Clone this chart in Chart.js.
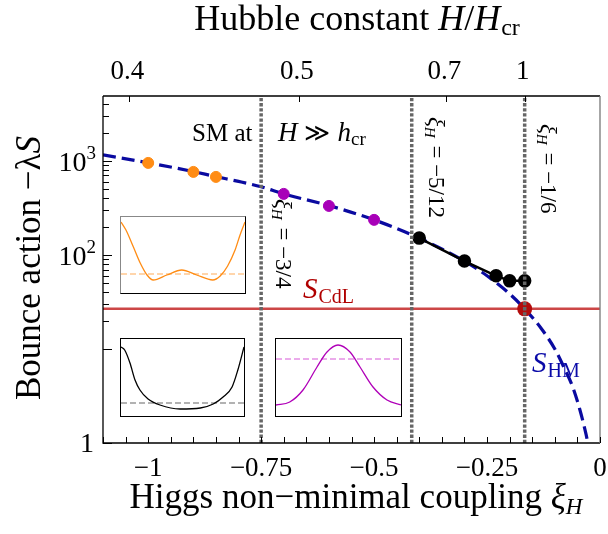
<!DOCTYPE html>
<html><head><meta charset="utf-8">
<script src="https://cdn.jsdelivr.net/npm/chart.js@4.4.0/dist/chart.umd.min.js"></script>
<style>
html,body{margin:0;padding:0;background:#fff;}
#wrap{position:relative;width:608px;height:534px;overflow:hidden;}
#main{position:absolute;left:0;top:0;}
.inset{position:absolute;background:#fff;border:1px solid #000;}
.inset canvas{display:block;}
</style></head><body>
<div id="wrap">
<canvas id="main" width="608" height="534"></canvas>
<div class="inset" style="left:120px;top:216px;width:124px;height:76px;border-top-color:#888;border-left-color:#888"><canvas id="insA" width="124" height="76"></canvas></div>
<div class="inset" style="left:120px;top:338px;width:123px;height:77px"><canvas id="insB" width="123" height="77"></canvas></div>
<div class="inset" style="left:275px;top:338px;width:125px;height:77px"><canvas id="insC" width="125" height="77"></canvas></div>
</div>
<script>
// ---------------- data ----------------
const hmXi = [-1.1, -1.0, -0.9, -0.85, -0.8, -0.75, -0.7, -0.6, -0.5, -0.4, -0.3, -0.25, -0.2, -0.1667, -0.13, -0.1, -0.08, -0.06, -0.045, -0.035, -0.027, -0.02];
const hmS  = [1160, 955, 770, 680, 605, 530, 446, 335, 236, 151, 86, 60, 38.5, 26.7, 16.5, 10, 6.4, 3.9, 2.3, 1.5, 1.0, 0.6];
const orangeXi = [-1.0, -0.9, -0.85];
const orangeS  = [952, 764, 676];
const purpleXi = [-0.7, -0.6, -0.5];
const purpleS  = [446, 332, 236];
const blackXi = [-0.4, -0.3, -0.23, -0.2, -0.1667];
const blackS  = [151, 86, 60, 53, 53];
const cdlS = 26.7;
const cdlXi = -0.1667;
const vLineXi = [-0.75, -0.4167, -0.1667];
const vLineLabels = ['\u22123/4', '\u22125/12', '\u22121/6'];
const xTickLabels = [-1, -0.75, -0.5, -0.25, 0];
const yTickValues = [1, 100, 1000];
const yTickExp = ['', '2', '3'];
const topTickH = [0.4, 0.5, 0.7, 1];
const topTickText = ['0.4', '0.5', '0.7', '1'];

// inset curves (normalised x, height in px units)
const insAX = [0, 0.04, 0.1, 0.155, 0.21, 0.26, 0.37, 0.49, 0.61, 0.74, 0.8, 0.86, 0.92, 0.96, 1.0];
const insAY = [71, 63, 46, 30, 18, 13, 18, 23, 18, 13, 17, 27, 43, 58, 71];
const insALevel = 19;
const insBX = [0, 0.03, 0.073, 0.114, 0.154, 0.22, 0.317, 0.48, 0.645, 0.75, 0.83, 0.903, 0.95, 1.0];
const insBY = [69, 66, 53, 36, 26, 17, 11, 7, 8, 12, 19, 29, 46, 69];
const insBLevel = 13;
const insCX = [0, 0.11, 0.216, 0.328, 0.408, 0.496, 0.592, 0.672, 0.776, 0.888, 1];
const insCY = [11, 14, 26, 49, 64, 71, 64, 49, 29, 16, 11];
const insCLevel = 57;

// ---------------- helpers ----------------
const SERIF = '"Liberation Serif", "DejaVu Serif", serif';
function f(size, italic){ return (italic ? 'italic ' : '') + size + 'px ' + SERIF; }
function rich(ctx, parts, x, y, align, rot, color){
  ctx.save();
  ctx.translate(x, y);
  if (rot) ctx.rotate(rot);
  ctx.textBaseline = 'alphabetic';
  ctx.textAlign = 'left';
  const ws = parts.map(p => { ctx.font = p.font; return ctx.measureText(p.t).width + (p.gap || 0); });
  const total = ws.reduce((a, b) => a + b, 0);
  let cx = align === 'center' ? -total / 2 : (align === 'right' ? -total : 0);
  parts.forEach((p, i) => {
    ctx.font = p.font;
    ctx.fillStyle = p.color || color || '#000';
    ctx.fillText(p.t, cx, p.dy || 0);
    cx += ws[i];
  });
  ctx.restore();
}
const pts = (xs, ys) => xs.map((x, i) => ({x: x, y: ys[i]}));

// ---------------- decorations plugin ----------------
const decor = {
  id: 'decor',
  afterDraw(chart){
    const ctx = chart.ctx;
    const xs = chart.scales.x, ys = chart.scales.y;
    const {left, right, top, bottom} = chart.chartArea;
    ctx.save();
    // frame
    ctx.lineWidth = 1.3;
    ctx.strokeStyle = '#000';
    ctx.beginPath();
    ctx.moveTo(left, top); ctx.lineTo(right, top);
    ctx.moveTo(left, top); ctx.lineTo(left, bottom); ctx.lineTo(right, bottom);
    ctx.stroke();
    ctx.strokeStyle = '#777';
    ctx.beginPath(); ctx.moveTo(right, top); ctx.lineTo(right, bottom); ctx.stroke();
    // bottom ticks
    ctx.strokeStyle = '#000';
    ctx.lineWidth = 1;
    ctx.beginPath();
    for (let k = -22; k <= 0; k++){
      const px = Math.round(xs.getPixelForValue(k * 0.05)) + 0.5;
      ctx.moveTo(px, bottom); ctx.lineTo(px, bottom - 6);
    }
    // left ticks
    const yt = [];
    [1, 10, 100, 1000].forEach(v => yt.push([v, 9]));
    [10, 100].forEach(d => { for (let m = 2; m <= 9; m++) yt.push([m * d, 6]); });
    [2000, 3000, 4000].forEach(v => yt.push([v, 6]));
    yt.forEach(([v, len]) => {
      const py = Math.round(ys.getPixelForValue(v)) + 0.5;
      ctx.moveTo(left, py); ctx.lineTo(left + len, py);
    });
    // top ticks
    topTickH.forEach(h => {
      const px = Math.round(xs.getPixelForValue(-1 / (6 * h * h))) + 0.5;
      ctx.moveTo(px, top); ctx.lineTo(px, top + 6);
    });
    ctx.stroke();

    // tick labels
    const T = 27;
    xTickLabels.forEach(v => {
      const s = v === 0 ? '0' : '\u2212' + String(Math.abs(v));
      rich(ctx, [{t: s, font: f(T)}], xs.getPixelForValue(v), bottom + 33, 'center');
    });
    topTickH.forEach((h, i) => {
      rich(ctx, [{t: topTickText[i], font: f(T)}], xs.getPixelForValue(-1 / (6 * h * h)) - 2, 79, 'center');
    });
    yTickValues.forEach((v, i) => {
      const py = ys.getPixelForValue(v);
      if (yTickExp[i]) {
        rich(ctx, [{t: '10', font: f(28)}, {t: yTickExp[i], font: f(19), dy: -12}], 96, py + 10, 'right');
      } else {
        rich(ctx, [{t: String(v), font: f(28)}], 94, py + 9, 'right');
      }
    });

    // axis titles
    rich(ctx, [{t: 'Hubble constant ', font: f(36)}, {t: 'H', font: f(36, true)}, {t: '/', font: f(36)},
               {t: 'H', font: f(36, true), gap: 1}, {t: 'cr', font: f(24), dy: 5}], 357, 30, 'center');
    rich(ctx, [{t: 'Higgs non\u2212minimal coupling ', font: f(35)}, {t: '\u03BE', font: f(35, true)},
               {t: 'H', font: f(23, true), dy: 6}], 356, 508, 'center');
    rich(ctx, [{t: 'Bounce action \u2212\u03BB', font: f(35)}, {t: 'S', font: f(35, true)}],
         40, 268, 'center', -Math.PI / 2);

    // in-plot annotations
    rich(ctx, [{t: 'SM at', font: f(25)}], 192, 141, 'left');
    rich(ctx, [{t: 'H', font: f(27, true), gap: 7}, {t: '\u226B', font: f(25), gap: 7}, {t: 'h', font: f(27, true)},
               {t: 'cr', font: f(19), dy: 4}], 278, 141, 'left');
    const vpos = [[276, 199], [429, 117], [541, 124]];
    vLineLabels.forEach((lab, i) => {
      rich(ctx, [{t: '\u03BE', font: f(23, true)}, {t: 'H', font: f(15, true), dy: 4, gap: 2},
                 {t: ' = ' + lab, font: f(23)}], vpos[i][0], vpos[i][1], 'left', Math.PI / 2);
    });
    rich(ctx, [{t: 'S', font: f(29, true), color: '#b00000', gap: 1}, {t: 'CdL', font: f(20), dy: 5, color: '#b00000'}],
         303, 298, 'left');
    rich(ctx, [{t: 'S', font: f(29, true), color: '#0a0aa8', gap: 1}, {t: 'HM', font: f(20), dy: 5, color: '#0a0aa8'}],
         532, 372, 'left');
    ctx.restore();
  }
};

// ---------------- main chart ----------------
const vLineSets = vLineXi.map(v => ({
  data: [{x: v, y: 1}, {x: v, y: 4900}],
  showLine: true, pointRadius: 0, borderColor: '#666666', borderWidth: 3.5,
  borderDash: [3.3, 1.8], borderCapStyle: 'butt', order: 0, clip: 0
}));

new Chart(document.getElementById('main'), {
  type: 'scatter',
  data: {
    datasets: [
      ...vLineSets,
      { data: [{x: cdlXi, y: cdlS}], pointRadius: 7.5, pointBackgroundColor: '#b30c0c',
        pointBorderColor: '#b30c0c', borderWidth: 0, order: 1 },
      { data: pts(blackXi, blackS), showLine: true, borderColor: '#000', borderWidth: 2.5,
        pointRadius: 5.5, pointBackgroundColor: '#000', pointBorderColor: '#000', order: 2 },
      { data: pts(orangeXi, orangeS), pointRadius: 5.5, pointBackgroundColor: '#ff8c14',
        pointBorderColor: '#ff8c14', order: 2 },
      { data: pts(purpleXi, purpleS), pointRadius: 5.5, pointBackgroundColor: '#a800b8',
        pointBorderColor: '#a800b8', order: 2 },
      { data: [{x: -1.1, y: cdlS}, {x: 0, y: cdlS}], showLine: true, pointRadius: 0,
        borderColor: '#cc4646', borderWidth: 2.5, order: 3, clip: 0 },
      { data: pts(hmXi, hmS), showLine: true, pointRadius: 0, borderColor: '#0a0aa0',
        borderWidth: 3.2, borderDash: [13, 6], cubicInterpolationMode: 'monotone', order: 4, clip: 0 }
    ]
  },
  options: {
    responsive: false, animation: false,
    layout: {padding: {left: 103, right: 8, top: 96, bottom: 91}},
    plugins: {legend: {display: false}, tooltip: {enabled: false}},
    events: [],
    scales: {
      x: {type: 'linear', min: -1.1, max: 0, display: false},
      y: {type: 'logarithmic', min: 1, max: 4900, display: false}
    }
  },
  plugins: [decor]
});

// ---------------- insets ----------------
function inset(id, xs, ys, level, color, dashColor, h){
  new Chart(document.getElementById(id), {
    type: 'scatter',
    data: {
      datasets: [
        { data: pts(xs, ys), showLine: true, pointRadius: 0, borderColor: color, borderWidth: 1.3,
          cubicInterpolationMode: 'monotone', order: 0 },
        { data: [{x: 0, y: level}, {x: 1, y: level}], showLine: true, pointRadius: 0,
          borderColor: dashColor, borderWidth: 1.3, borderDash: [6, 3], order: 1 }
      ]
    },
    options: {
      responsive: false, animation: false, events: [],
      layout: {padding: 0},
      plugins: {legend: {display: false}, tooltip: {enabled: false}},
      scales: {
        x: {type: 'linear', min: 0, max: 1, display: false},
        y: {type: 'linear', min: 0, max: h, display: false}
      }
    }
  });
}
inset('insA', insAX, insAY, insALevel, '#ff8c14', '#ffc890', 76);
inset('insB', insBX, insBY, insBLevel, '#000000', '#999999', 77);
inset('insC', insCX, insCY, insCLevel, '#b000b8', '#e590e5', 77);
</script>
</body></html>
